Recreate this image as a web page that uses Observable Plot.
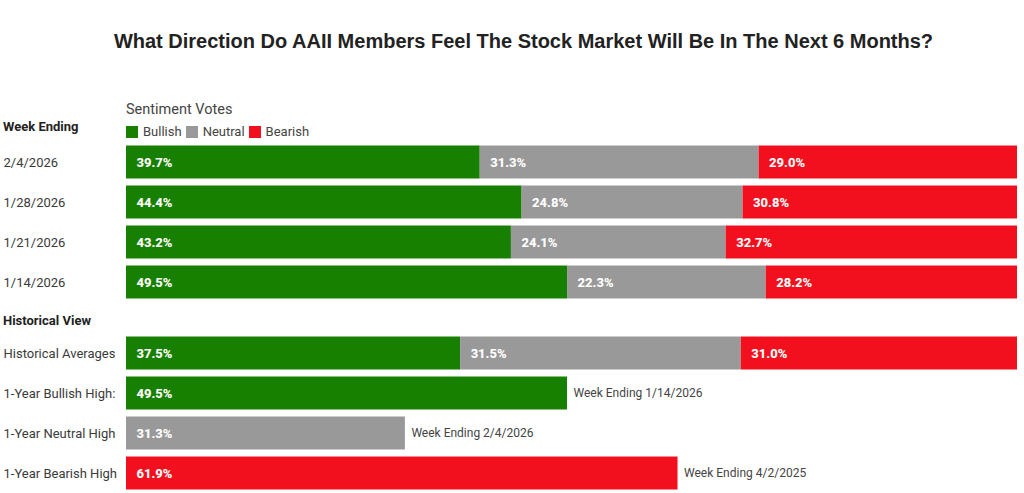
<!DOCTYPE html>
<html>
<head>
<meta charset="utf-8">
<script src="https://cdn.jsdelivr.net/npm/d3@7"></script>
<script src="https://cdn.jsdelivr.net/npm/@observablehq/plot@0.6"></script>
<style>
  html, body { margin: 0; padding: 0; background: #fff; }
  #wrap { position: relative; width: 1024px; height: 493px; overflow: hidden; font-family: Roboto, "Noto Sans", sans-serif; }
  #title { position: absolute; left: 0; width: 1047px; top: 30px; text-align: center; font-family: "Liberation Sans", Arial, sans-serif; font-weight: bold; font-size: 20px; color: #222; }
  .abs { position: absolute; }
  .head { font-weight: 700; font-size: 13px; color: #222; left: 3px; }
  #sv { left: 126px; top: 101px; font-size: 14.5px; color: #444; }
  #legend { left: 126px; top: 124px; font-size: 13px; color: #444; display: flex; align-items: center; }
  #legend span.sw { display: inline-block; width: 12px; height: 12px; margin-right: 5px; }
  #legend span.lb { margin-right: 4px; }
</style>
</head>
<body>
<div id="wrap">
  <div id="title">What Direction Do AAII Members Feel The Stock Market Will Be In The Next 6 Months?</div>
  <div id="sv" class="abs">Sentiment Votes</div>
  <div id="legend" class="abs"></div>
  <div class="abs head" style="top:119px">Week Ending</div>
  <div class="abs head" style="top:313px">Historical View</div>
</div>
<script>
// ---- data ----
const sentiments = ["Bullish", "Neutral", "Bearish"];
const sentimentColors = ["#178000", "#999999", "#f3101e"];

const weeks = ["2/4/2026", "1/28/2026", "1/21/2026", "1/14/2026"];
const bullish = [39.7, 44.4, 43.2, 49.5];
const neutral = [31.3, 24.8, 24.1, 22.3];
const bearish = [29.0, 30.8, 32.7, 28.2];

const avgLabel = "Historical Averages";
const historicalAverages = [37.5, 31.5, 31.0];

const highLabels = ["1-Year Bullish High:", "1-Year Neutral High", "1-Year Bearish High"];
const highSentiments = ["Bullish", "Neutral", "Bearish"];
const highValues = [49.5, 31.3, 61.9];
const highNotes = ["Week Ending 1/14/2026", "Week Ending 2/4/2026", "Week Ending 4/2/2025"];

// ---- tables ----
const weekRows = weeks.flatMap((w, i) => [
  {row: w, sentiment: "Bullish", value: bullish[i]},
  {row: w, sentiment: "Neutral", value: neutral[i]},
  {row: w, sentiment: "Bearish", value: bearish[i]}
]);
const histRows = [
  ...sentiments.map((s, i) => ({row: avgLabel, sentiment: s, value: historicalAverages[i]})),
  ...highLabels.map((l, i) => ({row: l, sentiment: highSentiments[i], value: highValues[i], note: highNotes[i]}))
];
const histDomain = [avgLabel, ...highLabels];

const fmt = d => d.value.toFixed(1) + "%";
const wrap = document.getElementById("wrap");

// legend
const legend = document.getElementById("legend");
sentiments.forEach((s, i) => {
  const sw = document.createElement("span"); sw.className = "sw"; sw.style.background = sentimentColors[i];
  const lb = document.createElement("span"); lb.className = "lb"; lb.textContent = s;
  legend.appendChild(sw); legend.appendChild(lb);
});

function panel(rows, domain, opts) {
  const marks = [
    Plot.barX(rows, {x: "value", y: "row", fill: "sentiment", insetTop: 3.5, insetBottom: 3.5}),
    Plot.text(rows, Plot.stackX1({x: "value", y: "row", text: fmt, fill: "white", fontWeight: 800, fontSize: 13, textAnchor: "start", dx: 10})),
    Plot.text(domain, {y: d => d, text: d => d, frameAnchor: "left", textAnchor: "start", dx: -123, fill: "#3a3a3a", fontSize: 13})
  ];
  if (opts.notes) {
    marks.push(Plot.text(rows.filter(d => d.note), {x: "value", y: "row", text: "note", textAnchor: "start", dx: 6, fill: "#444", fontSize: 12}));
  }
  const svg = Plot.plot({
    width: 1024,
    height: opts.height,
    marginLeft: 126,
    marginRight: 7,
    marginTop: opts.marginTop,
    marginBottom: opts.marginBottom,
    x: {domain: [0, 100], axis: null},
    y: {domain, axis: null, padding: 0},
    color: {domain: sentiments, range: sentimentColors},
    style: {fontFamily: "Roboto, 'Noto Sans', sans-serif", overflow: "visible", background: "transparent"},
    marks
  });
  svg.style.position = "absolute";
  svg.style.left = "0px";
  svg.style.top = opts.top + "px";
  return svg;
}

wrap.appendChild(panel(weekRows, weeks, {top: 0, height: 305, marginTop: 141.5, marginBottom: 3.5}));
wrap.appendChild(panel(histRows, histDomain, {top: 305, height: 188, marginTop: 27.5, marginBottom: 0.5, notes: true}));
</script>
</body>
</html>
